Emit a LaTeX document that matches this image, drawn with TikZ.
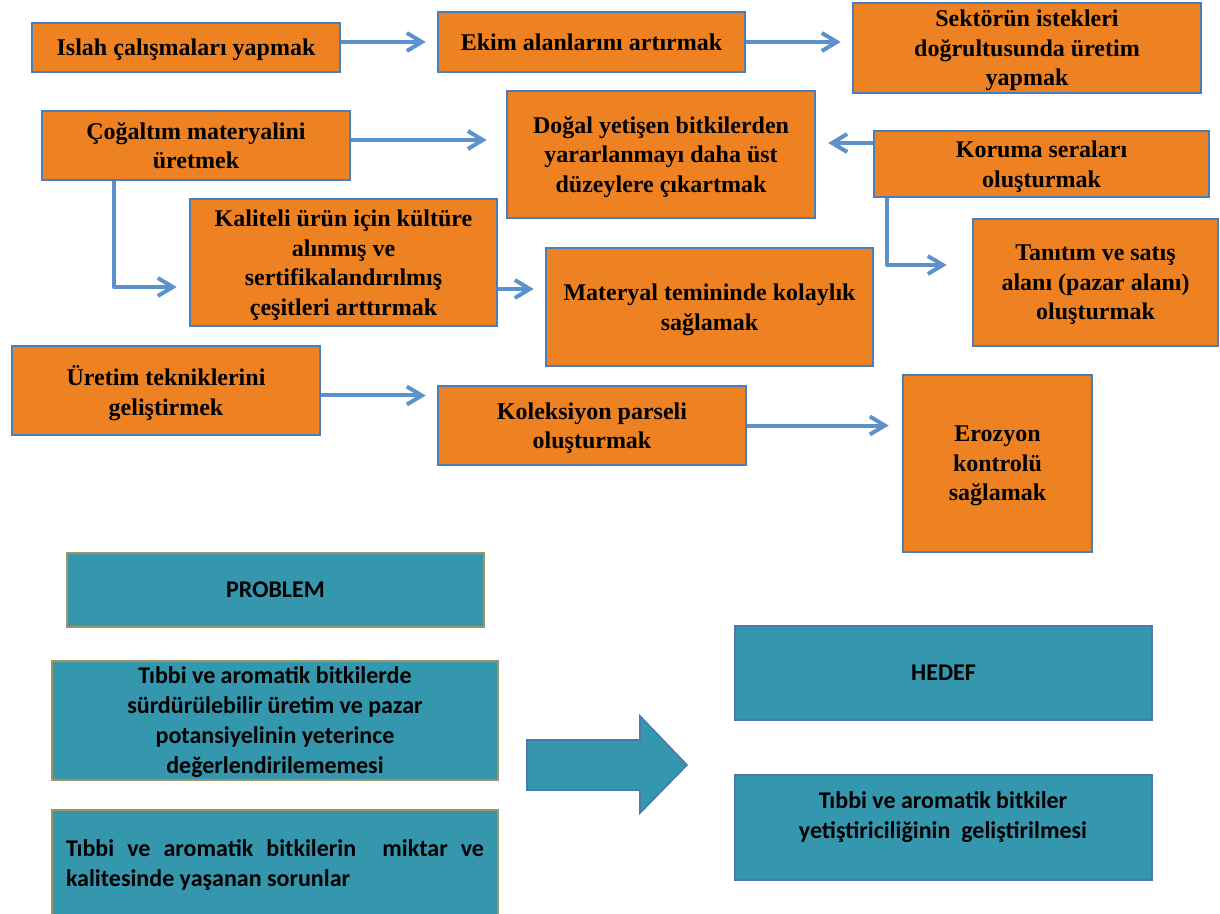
\documentclass[tikz,border=0pt]{standalone}
\usepackage{fontspec}
\setmainfont{Liberation Serif}
\newfontfamily\calfont{Carlito}
\usetikzlibrary{arrows.meta,calc}
\definecolor{orfill}{HTML}{EE8222}
\definecolor{orline}{HTML}{4A7EBB}
\definecolor{arrc}{HTML}{5B92CC}
\definecolor{tealfill}{HTML}{3497AD}
\definecolor{olive}{HTML}{A09565}
\definecolor{tealline}{HTML}{4A7AAE}
\begin{document}
\begin{tikzpicture}[x=0.5pt,y=-0.5pt,
  rect/.style n args={4}{minimum width={(#3-#1)*0.5pt}, minimum height={(#4-#2)*0.5pt},
    at={({(#1+#3)/2},{(#2+#4)/2})}},
  obox/.style={draw=orline,line width=1.3pt,fill=orfill,inner sep=0pt,align=center,
    text depth=-0.5pt,font=\bfseries\fontsize{12}{14.75}\selectfont},
  pbox/.style={draw=olive,line width=1.3pt,fill=tealfill,inner sep=0pt,align=center,
    text depth=-0.5pt,font=\calfont\bfseries\fontsize{12}{15}\selectfont},
  hbox/.style={pbox,draw=tealline},
  ptext/.style={inner sep=0pt,align=center,font=\calfont\bfseries\fontsize{12}{15}\selectfont},
  arr/.style={draw=arrc,line width=2pt,line join=round,
    -{Straight Barb[length=7.5pt,width=9pt,line width=2pt]}},
  bigarrow/.style={draw=tealline,line width=0.8pt,fill=tealfill}]
\useasboundingbox (0,0) rectangle (1220,914);
\clip (0,0) rectangle (1220,914);

% orange boxes
\node[obox,rect={32}{23}{340}{72}] (islah) {Islah çalışmaları yapmak};
\node[obox,rect={438}{12}{745}{72}] (ekim) {Ekim alanlarını artırmak};
\node[obox,rect={853}{3}{1201}{93}] (sektor) {Sektörün istekleri\\doğrultusunda üretim\\yapmak};
\node[obox,rect={42}{111}{350}{180}] (cogaltim) {Çoğaltım materyalini\\üretmek};
\node[obox,rect={507}{91}{815}{218}] (dogal) {Doğal yetişen bitkilerden\\yararlanmayı daha üst\\düzeylere çıkartmak};
\node[obox,rect={874}{131}{1209}{197}] (koruma) {Koruma seraları\\oluşturmak};
\node[obox,rect={190}{199}{497}{326}] (kaliteli) {Kaliteli ürün için kültüre\\alınmış ve\\sertifikalandırılmış\\çeşitleri arttırmak};
\node[obox,rect={546}{248}{873}{366}] (materyal) {Materyal temininde kolaylık\\sağlamak};
\node[obox,rect={973}{219}{1218}{346}] (tanitim) {Tanıtım ve satış\\alanı (pazar alanı)\\oluşturmak};
\node[obox,rect={12}{346}{320}{435}] (uretim) {Üretim tekniklerini\\geliştirmek};
\node[obox,rect={438}{386}{746}{465}] (koleksiyon) {Koleksiyon parseli\\oluşturmak};
\node[obox,rect={903}{375}{1092}{552}] (erozyon) {Erozyon\\kontrolü\\sağlamak};

% connectors
\draw[arr] (islah.east |- ekim.west) -- ($(ekim.west)+(-11,0)$);
\draw[arr] (ekim.east) -- ($(ekim.east -| sektor.west)+(-11,0)$);
\draw[arr] ($(cogaltim.east)+(0,-5.5)$) -- ($(cogaltim.east -| dogal.west)+(-19,-5.5)$);
\draw[arr] ($(koruma.west)+(0,-21)$) -- ($(koruma.west -| dogal.east)+(12,-21)$);
\draw[arr] ($(cogaltim.south west)+(73,0)$) |- ($(kaliteli.west)+(-12,24.5)$);
\draw[arr] ($(kaliteli.east)+(0,26.5)$) -- ($(kaliteli.east -| materyal.west)+(-11,26.5)$);
\draw[arr] ($(koruma.south west)+(14,0)$) |- ($(tanitim.west)+(-25,-17.5)$);
\draw[arr] ($(uretim.east)+(0,5)$) -- ($(uretim.east -| koleksiyon.west)+(-11,5)$);
\draw[arr] (koleksiyon.east) -- ($(koleksiyon.east -| erozyon.west)+(-13,0)$);

% teal boxes
\node[pbox,rect={67}{553}{484}{627}] (problem) {PROBLEM};
\node[pbox,rect={52}{661}{498}{780}] (neden1) {Tıbbi ve aromatik bitkilerde\\sürdürülebilir üretim ve pazar\\potansiyelinin yeterince\\değerlendirilememesi};
\node[pbox,rect={52}{810}{498}{916}] (neden2) {\makebox[209pt][s]{Tıbbi ve aromatik bitkilerin\ \ miktar ve}\\\makebox[209pt][l]{kalitesinde yaşanan sorunlar}};
\node[hbox,rect={735}{626}{1152}{720}] (hedef) {HEDEF};
\node[hbox,rect={735}{775}{1152}{880}] (amac) {};
\node[ptext] (amactxt) at (943,817) {Tıbbi ve aromatik bitkiler\\yetiştiriciliğinin\ \ geliştirilmesi};

% block arrow
\draw[bigarrow] (527,740) -- (640,740) -- (640,716) -- (687,765) -- (640,813) -- (640,790) -- (527,790) -- cycle;
\end{tikzpicture}
\end{document}
